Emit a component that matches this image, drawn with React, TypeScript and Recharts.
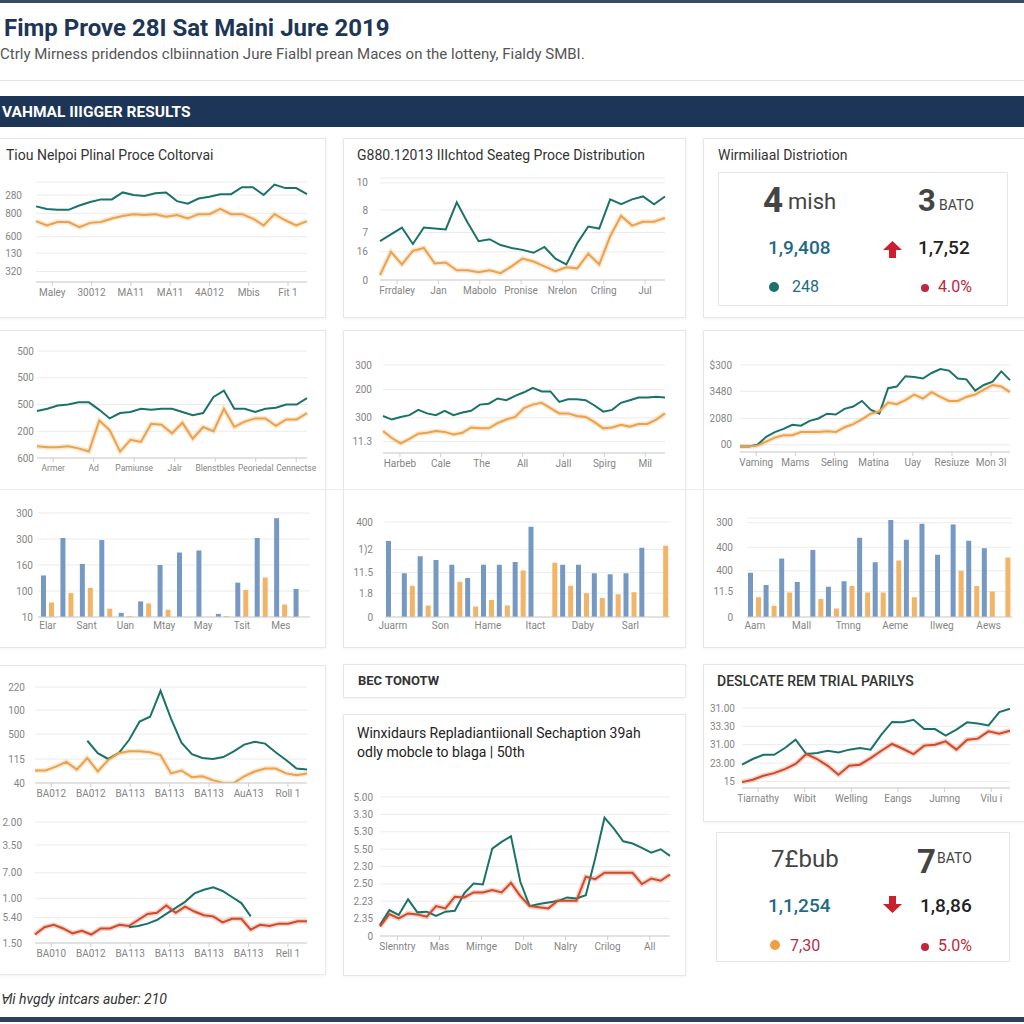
import { LineChart, Line, BarChart, Bar, XAxis, YAxis, CartesianGrid } from 'recharts'

const FONT = 'Roboto, "Open Sans", sans-serif'
const NAVY = '#1d3658'
const TEAL = '#1b7367'
const ORANGE = '#eba24c'
const RED = '#cf4b2a'
const BLUE = '#7699c4'
const BAR_ORANGE = '#f2b467'
const KPI_BLUE = '#1f6a85'
const KPI_RED = '#c0263a'

// top row, left: price overview
const p1Teal = [87, 84, 83, 83, 88, 92, 95, 95, 103, 100, 99, 102, 103, 93, 90, 96, 98, 101, 101, 109, 109, 100, 112, 108, 108, 101]
const p1Orange = [70, 65, 69, 69, 63, 68, 69, 73, 76, 78, 77, 78, 75, 77, 73, 78, 78, 84, 78, 78, 73, 65, 78, 71, 65, 70]
const p1YTicks = [12, 33, 52, 79, 100]
const p1YLabels = ['320', '130', '600', '800', '280']
const p1XLabels = ['Maley', '30012', 'MA11', 'MA11', '4A012', 'Mbis', 'Fit 1']

// top row, middle: distribution
const p2Teal = [40, 47, 54, 37, 54, 53, 52, 80, 59, 40, 42, 36, 33, 31, 28, 34, 22, 16, 38, 55, 53, 83, 78, 83, 86, 78, 86]
const p2Orange = [5, 29, 16, 30, 33, 17, 18, 10, 10, 8, 10, 7, 14, 22, 19, 14, 9, 13, 12, 27, 16, 45, 66, 56, 60, 60, 64]
const p2YTicks = [0, 29, 49, 72, 100]
const p2YLabels = ['0', '16', '7', '8', '10']
const p2XLabels = ['Frrdaley', 'Jan', 'Mabolo', 'Pronise', 'Nrelon', 'Crling', 'Jul']

// second row, left
const p4Teal = [44, 46, 49, 50, 52, 52, 45, 37, 42, 43, 46, 45, 46, 46, 43, 40, 42, 57, 63, 46, 46, 43, 46, 47, 50, 50, 56]
const p4Orange = [11, 10, 10, 11, 9, 6, 35, 26, 6, 17, 15, 32, 31, 23, 33, 18, 29, 25, 46, 29, 34, 37, 37, 30, 36, 36, 42]
const p4YTicks = [0, 25, 50, 75, 100]
const p4YLabels = ['600', '200', '500', '500', '500']
const p4XLabels = ['Armer', 'Ad', 'Pamiunse', 'Jalr', 'Blenstbles', 'Peoriedal', 'Cennectse']

const p5Blue = [40, 76, 51, 74, 4, 15, 50, 62, 64, 3, 33, 76, 95, 27]
const p5Orange = [14, 23, 28, 8, 1, 13, 7, 0, 0, 1, 26, 38, 12, 0]
const p5YTicks = [0, 25, 50, 75, 100]
const p5YLabels = ['10', '100', '160', '300', '300']
const p5XLabels = ['Elar', 'Sant', 'Uan', 'Mtay', 'May', 'Tsit', 'Mes']

// second row, middle
const p6Teal = [42, 38, 41, 43, 49, 45, 43, 48, 43, 46, 48, 55, 56, 62, 60, 65, 69, 74, 70, 70, 58, 61, 61, 60, 54, 47, 49, 57, 60, 63, 63, 64, 63]
const p6Orange = [25, 17, 11, 16, 22, 23, 25, 24, 21, 23, 29, 28, 28, 34, 38, 41, 51, 55, 57, 51, 45, 45, 42, 41, 35, 28, 29, 32, 30, 33, 33, 38, 45]
const p6YTicks = [13, 40, 72, 100]
const p6YLabels = ['11.3', '300', '200', '300']
const p6XLabels = ['Harbeb', 'Cale', 'The', 'All', 'Jall', 'Spirg', 'Mil']

const p7Blue = [80, 46, 64, 60, 55, 41, 55, 55, 58, 95, 0, 55, 55, 46, 45, 46, 73, 0]
const p7Orange = [0, 33, 12, 0, 37, 11, 18, 12, 49, 0, 57, 33, 25, 20, 24, 26, 0, 75]
const p7YTicks = [0, 25, 47, 71, 100]
const p7YLabels = ['0', '1.8', '11.5', '1)2', '400']
const p7XLabels = ['Juarm', 'Son', 'Hame', 'Itact', 'Daby', 'Sarl']

// second row, right
const p8Teal = [-2, -2, 0, 10, 16, 20, 25, 24, 30, 33, 39, 38, 45, 48, 55, 44, 39, 71, 73, 86, 85, 83, 90, 95, 93, 83, 82, 68, 75, 79, 92, 81]
const p8Orange = [-2, -2, -1, 4, 9, 12, 12, 16, 16, 16, 17, 16, 22, 26, 32, 39, 42, 53, 51, 56, 63, 58, 66, 60, 55, 55, 60, 63, 69, 75, 73, 66]
const p8YTicks = [0, 33, 67, 100]
const p8YLabels = ['00', '2080', '3480', '$300']
const p8XLabels = ['Vaming', 'Mams', 'Seling', 'Matina', 'Uay', 'Resiuze', 'Mon 3l']

const p9Blue = [47, 34, 62, 37, 71, 32, 38, 84, 58, 103, 82, 99, 66, 98, 81, 73, 0]
const p9Orange = [21, 12, 26, 0, 19, 9, 33, 26, 26, 60, 21, 0, 0, 49, 33, 27, 63]
const p9YTicks = [0, 27, 49, 74, 100]
const p9YLabels = ['0', '11.5', '400', '400', '300']
const p9XLabels = ['Aam', 'Mall', 'Tmng', 'Aeme', 'Ilweg', 'Aews']

// third row, left
const p10Teal = [null, null, null, null, null, 44, 31, 25, 31, 45, 64, 69, 96, 67, 42, 30, 26, 25, 27, 33, 40, 43, 41, 32, 24, 15, 14]
const p10Orange = [13, 13, 17, 22, 14, 26, 12, 24, 31, 33, 33, 32, 29, 10, 13, 6, 7, 3, 0, 0, 7, 12, 15, 15, 10, 8, 10]
const p10YTicks = [0, 25, 51, 76, 100]
const p10YLabels = ['40', '115', '500', '100', '220']
const p10XLabels = ['BA012', 'BA012', 'BA113', 'BA113', 'BA113', 'AuA13', 'Roll 1']

const p11Teal = [null, null, null, null, null, null, null, null, null, null, 13, 14, 16, 19, 24, 29, 34, 41, 44, 46, 43, 38, 33, 22, null, null, null, null, null, null]
const p11Red = [7, 13, 15, 12, 8, 10, 7, 12, 12, 15, 14, 19, 24, 25, 31, 25, 30, 26, 23, 22, 17, 20, 20, 11, 15, 14, 16, 16, 18, 18]
const p11YTicks = [0, 21, 37, 58, 81, 100]
const p11YLabels = ['1.50', '5.40', '1.00', '7.00', '3.50', '2.00']
const p11XLabels = ['BA010', 'BA012', 'BA113', 'BA113', 'BA113', 'BA113', 'Rell 1']

// third row, middle
const p12Teal = [0.63, 1.49, 1.21, 2.11, 1.36, 1.4, 1.15, 1.4, 1.45, 2.45, 3.02, 2.97, 5.03, 5.42, 5.74, 3.12, 1.72, 1.84, 1.93, 2.01, 2.22, 2.16, 2.35, 4.46, 6.81, 6.18, 5.45, 5.32, 5.07, 4.8, 4.99, 4.61]
const p12Red = [0.54, 1.26, 1.01, 1.3, 1.24, 1.11, 1.72, 1.59, 2.26, 2.22, 2.51, 2.51, 2.64, 2.51, 3.06, 2.3, 1.72, 1.65, 1.59, 2.03, 2.03, 2.03, 3.41, 3.27, 3.64, 3.64, 3.64, 3.64, 2.99, 3.31, 3.18, 3.54]
const p12YTicks = [0, 1, 2, 3, 4, 5, 6, 7, 8]
const p12YLabels = ['0', '2.35', '2.23', '2.50', '2.30', '5.50', '5.30', '3.30', '5.00']
const p12XLabels = ['Slenntry', 'Mas', 'Mirnge', 'Dolt', 'Nalry', 'Crilog', 'All']

// third row, right
const p13Teal = [0.91, 1.22, 1.45, 1.45, 1.82, 2.27, 1.49, 1.55, 1.67, 1.58, 1.73, 1.82, 1.73, 2.55, 3.24, 3.22, 3.36, 2.85, 2.85, 2.49, 2.82, 3.22, 3.15, 3.05, 3.78, 3.96]
const p13Red = [-0.04, 0.09, 0.31, 0.45, 0.67, 0.95, 1.49, 1.22, 0.85, 0.36, 0.85, 0.91, 1.27, 1.67, 2.04, 1.78, 1.49, 1.95, 2.0, 2.18, 1.73, 2.27, 2.33, 2.73, 2.6, 2.76]
const p13YTicks = [0, 1, 2, 3, 4]
const p13YLabels = ['15', '23.00', '31.00', '33.30', '31.00']
const p13XLabels = ['Tiarnathy', 'Wibit', 'Welling', 'Eangs', 'Jumng', 'Vilu i']

type Box = { x: number; y: number; w: number; h: number; mt: number; mr: number; ml: number; yw: number; gap: number }
type Series = { data: (number | null)[]; color: string; glow?: boolean }

const TICK = { fontSize: 10, fill: '#858585', fontFamily: FONT }

function labelOf(ticks: number[], labels: string[]) {
  return (v: number) => {
    const k = ticks.findIndex((t) => Math.abs(t - v) < 1e-6)
    return k >= 0 ? labels[k] : ''
  }
}

function LineBox({ box, lines, domain, yTicks, yLabels, xLabels, xFont = 10, hiEdge = 0.93 }: {
  box: Box; lines: Series[]; domain: [number, number]; yTicks: number[]; yLabels: string[]; xLabels: string[]; xFont?: number; hiEdge?: number
}) {
  const n = lines[0].data.length
  const rows = Array.from({ length: n }, (_, i) => {
    const r: Record<string, number | null> = { i }
    lines.forEach((s, k) => { r['s' + k] = s.data[i] })
    return r
  })
  const lo = 0.06 * (n - 1)
  const hi = hiEdge * (n - 1)
  const xTicks = xLabels.map((_, k) => lo + (k * (hi - lo)) / (xLabels.length - 1))
  return (
    <div style={{ position: 'absolute', left: box.x, top: box.y }}>
      <LineChart width={box.w} height={box.h} data={rows} margin={{ top: box.mt, right: box.mr, left: box.ml, bottom: 0 }}>
        <CartesianGrid vertical={false} stroke="#ebebeb" />
        <XAxis dataKey="i" type="number" domain={[0, n - 1]} ticks={xTicks} interval={0} tickFormatter={labelOf(xTicks, xLabels)}
          height={20} tick={{ ...TICK, fontSize: xFont }} tickSize={4} tickMargin={3} stroke="#cfcfcf" />
        <YAxis type="number" domain={domain} ticks={yTicks} interval={0} allowDataOverflow tickFormatter={labelOf(yTicks, yLabels)}
          width={box.yw} axisLine={false} tickLine={false} tickSize={0} tickMargin={box.gap} tick={TICK} />
        {lines.map((s, k) => s.glow ? (
          <Line key={'g' + k} dataKey={'s' + k} stroke={s.color} strokeOpacity={0.25} strokeWidth={5} dot={false} activeDot={false} isAnimationActive={false} />
        ) : null)}
        {lines.map((s, k) => (
          <Line key={k} dataKey={'s' + k} stroke={s.color} strokeWidth={2} dot={false} activeDot={false} isAnimationActive={false} />
        ))}
      </LineChart>
    </div>
  )
}

function BarBox({ box, blue, orange, domain, yTicks, yLabels, xLabels, every }: {
  box: Box; blue: number[]; orange: number[]; domain: [number, number]; yTicks: number[]; yLabels: string[]; xLabels: string[]; every: number
}) {
  const rows = blue.map((b, i) => ({ i, b, o: orange[i] }))
  return (
    <div style={{ position: 'absolute', left: box.x, top: box.y }}>
      <BarChart width={box.w} height={box.h} data={rows} margin={{ top: box.mt, right: box.mr, left: box.ml, bottom: 0 }} barSize={5} barGap={3}>
        <CartesianGrid vertical={false} stroke="#ebebeb" />
        <XAxis dataKey="i" interval={0} tickFormatter={(v: number) => (v % every === 0 ? xLabels[v / every] ?? '' : '')}
          height={18} tick={TICK} tickLine={false} tickSize={0} tickMargin={5} stroke="#cfcfcf" />
        <YAxis type="number" domain={domain} ticks={yTicks} interval={0} allowDataOverflow tickFormatter={labelOf(yTicks, yLabels)}
          width={box.yw} axisLine={false} tickLine={false} tickSize={0} tickMargin={box.gap} tick={TICK} />
        <Bar dataKey="b" fill={BLUE} isAnimationActive={false} />
        <Bar dataKey="o" fill={BAR_ORANGE} isAnimationActive={false} />
      </BarChart>
    </div>
  )
}

function Card({ x, y, w, h }: { x: number; y: number; w: number; h: number }) {
  return (
    <div style={{
      position: 'absolute', left: x, top: y, width: w, height: h, boxSizing: 'border-box',
      border: '1px solid #e7e7e7', background: '#fff', boxShadow: '0 1px 3px rgba(0,0,0,0.05)',
    }} />
  )
}

function Txt({ x, base, size, color = '#333', weight = 400, italic = false, children }: {
  x: number; base: number; size: number; color?: string; weight?: number; italic?: boolean; children: React.ReactNode
}) {
  return (
    <span style={{
      position: 'absolute', left: x, top: base - 0.86 * size, fontSize: size, lineHeight: 1, color, fontWeight: weight,
      fontStyle: italic ? 'italic' : 'normal', whiteSpace: 'nowrap', fontFamily: FONT,
    }}>{children}</span>
  )
}

function Dot({ x, y, r, color }: { x: number; y: number; r: number; color: string }) {
  return <div style={{ position: 'absolute', left: x - r, top: y - r, width: 2 * r, height: 2 * r, borderRadius: '50%', background: color }} />
}

function Arrow({ x, y, up }: { x: number; y: number; up: boolean }) {
  const pts = up ? '9.5,0 19,9 13,9 13,17 6,17 6,9 0,9' : '9.5,17 19,8 13,8 13,0 6,0 6,8 0,8'
  return (
    <svg style={{ position: 'absolute', left: x, top: y }} width={19} height={17}>
      <polygon points={pts} fill="#c8202f" />
    </svg>
  )
}

export default function App() {
  return (
    <div style={{ position: 'absolute', left: 0, top: 0, width: 1024, height: 1024, background: '#fff', overflow: 'hidden', fontFamily: FONT }}>
      <div style={{ position: 'absolute', left: 0, top: 0, width: 1024, height: 3, background: '#3a4a60' }} />
      <Txt x={4} base={37} size={24} color={NAVY} weight={700}>Fimp Prove 28I Sat Maini Jure 2019</Txt>
      <Txt x={0} base={60} size={15} color="#555">Ctrly Mirness pridendos clbiinnation Jure Fialbl prean Maces on the lotteny, Fialdy SMBI.</Txt>
      <div style={{ position: 'absolute', left: 0, top: 80, width: 1024, height: 1, background: '#e3e3e3' }} />
      <div style={{ position: 'absolute', left: 0, top: 96, width: 1024, height: 31, background: NAVY }} />
      <Txt x={2} base={118} size={15.5} color="#fff" weight={700}>VAHMAL IIIGGER RESULTS</Txt>

      {/* cards */}
      <Card x={-1} y={138} w={327} h={180} />
      <Card x={343} y={138} w={343} h={180} />
      <Card x={703} y={138} w={330} h={180} />
      <Card x={-1} y={330} w={327} h={318} />
      <Card x={343} y={330} w={343} h={318} />
      <Card x={703} y={330} w={330} h={318} />
      <div style={{ position: 'absolute', left: 0, top: 489, width: 1024, height: 1, background: '#ececec' }} />
      <Card x={-1} y={665} w={327} h={310} />
      <Card x={343} y={664} w={343} h={34} />
      <Card x={343} y={714} w={343} h={262} />
      <Card x={703} y={664} w={330} h={158} />

      <Txt x={6} base={160} size={14}>Tiou Nelpoi Plinal Proce Coltorvai</Txt>
      <Txt x={357} base={160} size={14}>G880.12013 IIIchtod Seateg Proce Distribution</Txt>
      <Txt x={718} base={160} size={14}>Wirmiliaal Distriotion</Txt>
      <Txt x={358} base={685} size={13} weight={700}>BEC TONOTW</Txt>
      <Txt x={357} base={738} size={14} color="#222">Winxidaurs Repladiantiionall Sechaption 39ah</Txt>
      <Txt x={357} base={757} size={14} color="#222">odly mobcle to blaga | 50th</Txt>
      <Txt x={717} base={686} size={14} weight={500}>DESLCATE REM TRIAL PARILYS</Txt>

      <LineBox box={{ x: 0, y: 170, w: 326, h: 132, mt: 12, mr: 19, ml: 6, yw: 30, gap: 14 }} domain={[0, 115]}
        lines={[{ data: p1Teal, color: TEAL }, { data: p1Orange, color: ORANGE, glow: true }]}
        yTicks={p1YTicks} yLabels={p1YLabels} xLabels={p1XLabels} />
      <LineBox box={{ x: 343, y: 166, w: 343, h: 134, mt: 12, mr: 21, ml: 5, yw: 32, gap: 12 }} domain={[0, 105]}
        lines={[{ data: p2Teal, color: TEAL }, { data: p2Orange, color: ORANGE, glow: true }]}
        yTicks={p2YTicks} yLabels={p2YLabels} xLabels={p2XLabels} />

      {/* KPI box 1 */}
      <div style={{ position: 'absolute', left: 718, top: 172, width: 290, height: 134, border: '1px solid #e6e6e6', boxSizing: 'border-box' }} />
      <Txt x={763} base={213} size={35} color="#444" weight={700}>4</Txt>
      <Txt x={788} base={210} size={22} color="#444">mish</Txt>
      <Txt x={918} base={212} size={31} color="#444" weight={700}>3</Txt>
      <Txt x={939} base={210} size={14} color="#444">BATO</Txt>
      <Txt x={768} base={254} size={19} color={KPI_BLUE} weight={500}>1,9,408</Txt>
      <Arrow x={883} y={241} up />
      <Txt x={918} base={254} size={19} color="#222" weight={500}>1,7,52</Txt>
      <Dot x={774} y={287} r={5} color={TEAL} />
      <Txt x={792} base={293} size={16} color={KPI_BLUE}>248</Txt>
      <Dot x={925} y={288} r={4} color={KPI_RED} />
      <Txt x={938} base={293} size={16} color={KPI_RED}>4.0%</Txt>

      <LineBox box={{ x: 0, y: 340, w: 326, h: 138, mt: 11, mr: 19, ml: 4, yw: 33, gap: 3 }} domain={[0, 100]}
        lines={[{ data: p4Teal, color: TEAL }, { data: p4Orange, color: ORANGE, glow: true }]}
        yTicks={p4YTicks} yLabels={p4YLabels} xLabels={p4XLabels} xFont={8.5} hiEdge={0.96} />
      <BarBox box={{ x: 0, y: 503, w: 326, h: 132, mt: 10, mr: 16, ml: 4, yw: 34, gap: 5 }} domain={[0, 100]}
        blue={p5Blue} orange={p5Orange} yTicks={p5YTicks} yLabels={p5YLabels} xLabels={p5XLabels} every={2} />

      <LineBox box={{ x: 343, y: 355, w: 343, h: 118, mt: 10, mr: 21, ml: 4, yw: 36, gap: 11 }} domain={[0, 100]}
        lines={[{ data: p6Teal, color: TEAL }, { data: p6Orange, color: ORANGE, glow: true }]}
        yTicks={p6YTicks} yLabels={p6YLabels} xLabels={p6XLabels} />
      <BarBox box={{ x: 343, y: 511, w: 343, h: 124, mt: 11, mr: 16, ml: 4, yw: 38, gap: 12 }} domain={[0, 100]}
        blue={p7Blue} orange={p7Orange} yTicks={p7YTicks} yLabels={p7YLabels} xLabels={p7XLabels} every={3} />

      <LineBox box={{ x: 703, y: 355, w: 321, h: 117, mt: 10, mr: 14, ml: 4, yw: 33, gap: 8 }} domain={[-9, 100]}
        lines={[{ data: p8Teal, color: TEAL }, { data: p8Orange, color: ORANGE, glow: true }]}
        yTicks={p8YTicks} yLabels={p8YLabels} xLabels={p8XLabels} />
      <BarBox box={{ x: 703, y: 512, w: 321, h: 123, mt: 6, mr: 12, ml: 4, yw: 40, gap: 14 }} domain={[0, 105]}
        blue={p9Blue} orange={p9Orange} yTicks={p9YTicks} yLabels={p9YLabels} xLabels={p9XLabels} every={3} />

      <LineBox box={{ x: 0, y: 677, w: 326, h: 126, mt: 10, mr: 19, ml: 4, yw: 31, gap: 10 }} domain={[0, 100]}
        lines={[{ data: p10Teal, color: TEAL }, { data: p10Orange, color: ORANGE, glow: true }]}
        yTicks={p10YTicks} yLabels={p10YLabels} xLabels={p10XLabels} />
      <LineBox box={{ x: 0, y: 812, w: 326, h: 151, mt: 10, mr: 19, ml: 4, yw: 31, gap: 13 }} domain={[0, 100]}
        lines={[{ data: p11Teal, color: TEAL }, { data: p11Red, color: RED, glow: true }]}
        yTicks={p11YTicks} yLabels={p11YLabels} xLabels={p11XLabels} />

      <LineBox box={{ x: 343, y: 787, w: 343, h: 169, mt: 10, mr: 16, ml: 4, yw: 33, gap: 7 }} domain={[0, 8]}
        lines={[{ data: p12Teal, color: TEAL }, { data: p12Red, color: RED, glow: true }]}
        yTicks={p12YTicks} yLabels={p12YLabels} xLabels={p12XLabels} />

      <LineBox box={{ x: 703, y: 698, w: 321, h: 110, mt: 10, mr: 14, ml: 4, yw: 35, gap: 7 }} domain={[-0.36, 4]}
        lines={[{ data: p13Teal, color: TEAL }, { data: p13Red, color: RED, glow: true }]}
        yTicks={p13YTicks} yLabels={p13YLabels} xLabels={p13XLabels} />

      {/* KPI box 2 */}
      <div style={{ position: 'absolute', left: 716, top: 832, width: 294, height: 130, border: '1px solid #e6e6e6', boxSizing: 'border-box' }} />
      <Txt x={771} base={868} size={24} color="#444">7£bub</Txt>
      <Txt x={917} base={873} size={33} color="#444" weight={700}>7</Txt>
      <Txt x={937} base={863} size={14} color="#444">BATO</Txt>
      <Txt x={768} base={912} size={19} color={KPI_BLUE} weight={500}>1,1,254</Txt>
      <Arrow x={883} y={896} up={false} />
      <Txt x={920} base={912} size={19} color="#222" weight={500}>1,8,86</Txt>
      <Dot x={775} y={945} r={5} color="#f0a040" />
      <Txt x={790} base={952} size={16} color="#b0304a">7,30</Txt>
      <Dot x={925} y={947} r={4} color={KPI_RED} />
      <Txt x={938} base={952} size={16} color={KPI_RED}>5.0%</Txt>

      <Txt x={0} base={1004} size={14} color="#333" italic>Ɐli hvgdy intcars auber: 210</Txt>
      <div style={{ position: 'absolute', left: 0, top: 1017, width: 1024, height: 5, background: '#2f3f56' }} />
    </div>
  )
}
